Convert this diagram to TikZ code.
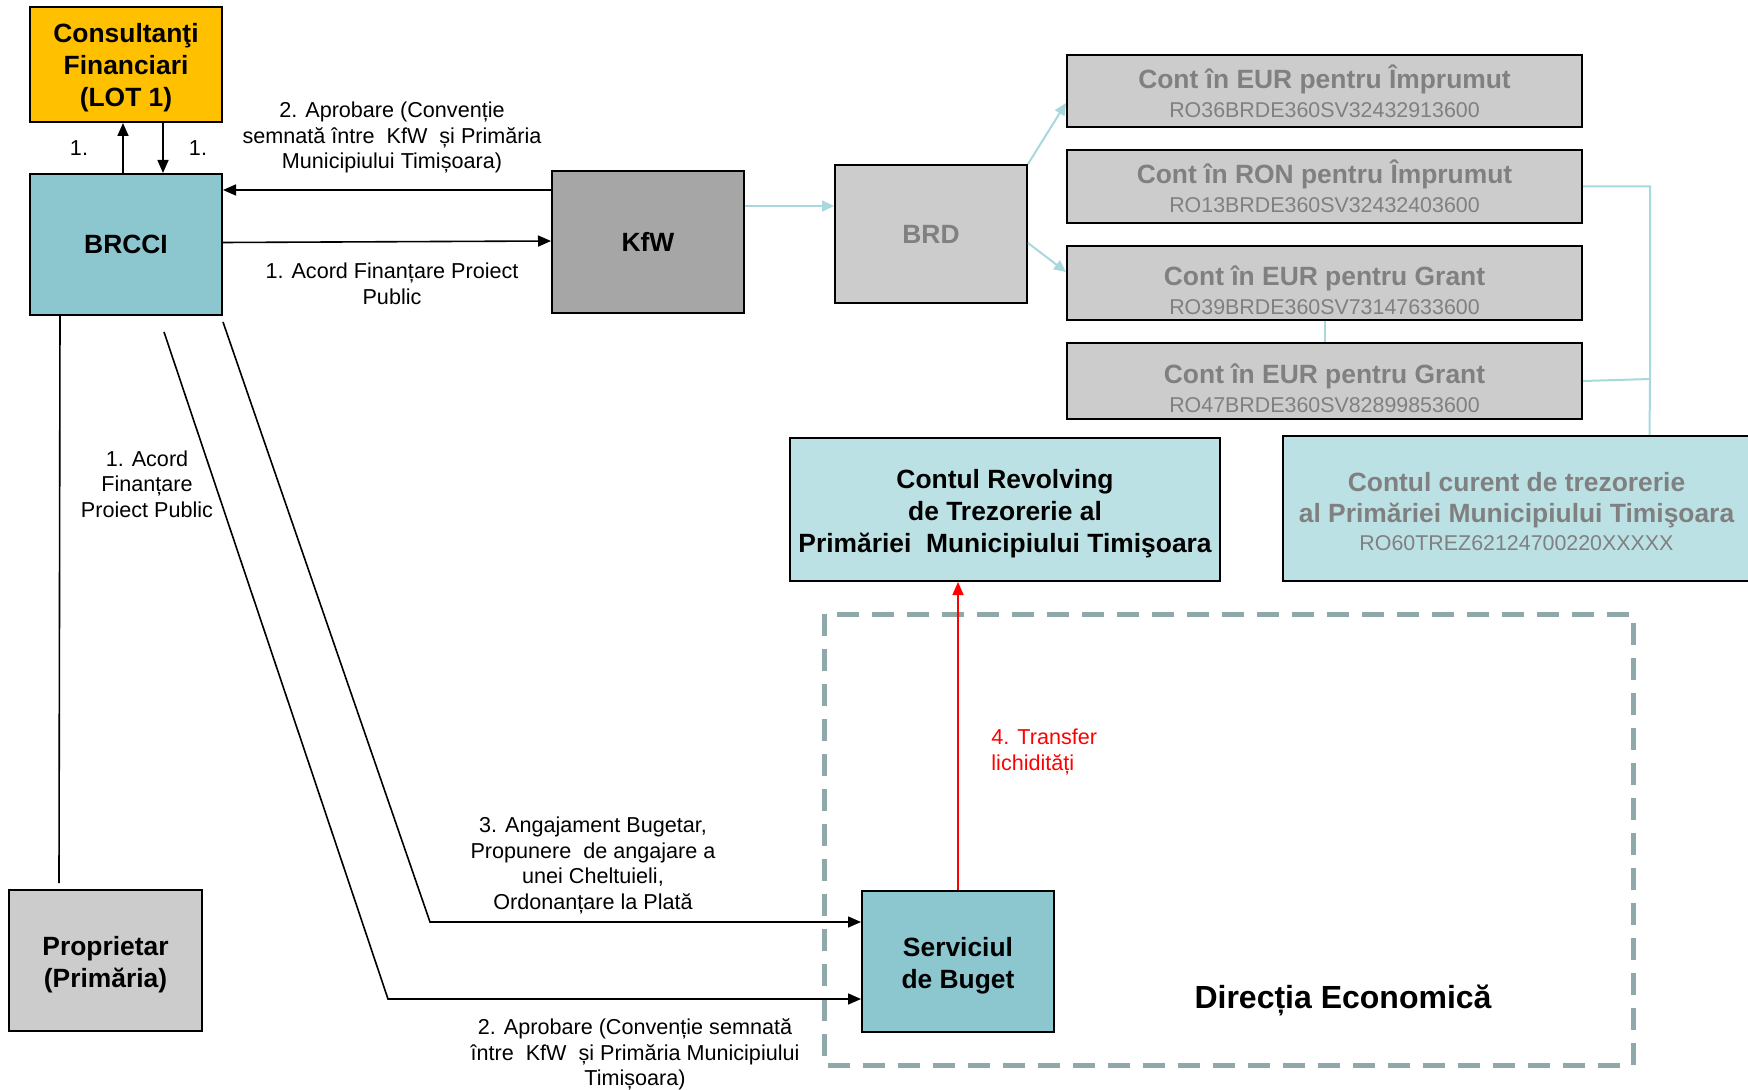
\documentclass[tikz,border=0pt]{standalone}
\usepackage{fontspec}
\setmainfont{Liberation Sans}
\usetikzlibrary{arrows.meta}
\definecolor{ouro}{HTML}{FFC000}
\definecolor{azulbox}{HTML}{8CC6CE}
\definecolor{azulclaro}{HTML}{BCE1E4}
\definecolor{cinzakfw}{HTML}{A6A6A6}
\definecolor{cinzabox}{HTML}{CCCCCC}
\definecolor{cinzatexto}{HTML}{808080}
\definecolor{linhaazul}{HTML}{A9D8DC}
\definecolor{tracejado}{HTML}{8FA9AB}
\newcommand{\numero}[1]{{\mdseries\fontsize{10.7}{14.5}\selectfont #1}}
\newcommand{\desce}[1]{\rule{0pt}{#1}} %Texto mais baixo
\begin{document}
\begin{tikzpicture}[x=0.5pt,y=-0.5pt, %Escala em pixels
	caixa/.style={draw=black,line width=1pt,align=center,inner sep=0pt,font=\fontsize{13.2}{15.9}\selectfont\bfseries},
	conta/.style={caixa,fill=cinzabox,text=cinzatexto,minimum width=257.5pt,font=\fontsize{13.2}{14.5}\selectfont\bfseries},
	rotulo/.style={align=center,inner sep=0pt,font=\fontsize{10.8}{12.8}\selectfont},
	seta/.style={-{Triangle[length=6.5pt,width=5.5pt]},line width=0.8pt},
	setaazul/.style={-{Triangle[length=6pt,width=5.5pt]},draw=linhaazul,line width=1pt}]
	\useasboundingbox (0,0) rectangle (1748,1090);
	%Moldura tracejada
	\draw[tracejado,line width=2.5pt,dash pattern=on 11pt off 6.5pt] (824,614) rectangle (1633,1065);
	\node[font=\fontsize{16}{19}\selectfont\bfseries] (dir) at (1343,1000.5) {Direcția Economică};
	%Caixas
	\node[caixa,fill=ouro,minimum width=96pt,minimum height=57.5pt] (cons) at (126,64.5) {\desce{12.9pt}Consultanţi\\Financiari\\(LOT 1)};
	\node[caixa,fill=azulbox,minimum width=96pt,minimum height=70.5pt] (brcci) at (126,244.5) {BRCCI};
	\node[caixa,fill=cinzakfw,minimum width=96pt,minimum height=71pt] (kfw) at (648,242) {KfW};
	\node[caixa,fill=cinzabox,text=cinzatexto,minimum width=96pt,minimum height=69pt] (brd) at (931,234) {BRD};
	\node[conta,minimum height=36pt] (c1) at (1324.5,91) {Cont în EUR pentru Împrumut\\\numero{RO36BRDE360SV32432913600}};
	\node[conta,minimum height=36.5pt] (c2) at (1324.5,186.5) {Cont în RON pentru Împrumut\\\numero{RO13BRDE360SV32432403600}};
	\node[conta,minimum height=37pt] (c3) at (1324.5,283) {\desce{17.4pt}Cont în EUR pentru Grant\\\numero{RO39BRDE360SV73147633600}};
	\node[conta,minimum height=38pt] (c4) at (1324.5,381) {\desce{17.4pt}Cont în EUR pentru Grant\\\numero{RO47BRDE360SV82899853600}};
	\node[caixa,fill=azulclaro,minimum width=215pt,minimum height=71.5pt] (rev) at (1005,509.5) {\desce{14pt}Contul Revolving\\de Trezorerie al\\Primăriei\ \ Municipiului Timişoara};
	\node[caixa,fill=azulclaro,text=cinzatexto,minimum width=233.5pt,minimum height=72.5pt] (cur) at (1516.5,508.5) {\desce{12.6pt}Contul curent de trezorerie\\al Primăriei Municipiului Timişoara\\[-2pt]\numero{RO60TREZ62124700220XXXXX}};
	\node[caixa,fill=cinzabox,minimum width=96.5pt,minimum height=70.5pt] (prop) at (105.5,960.5) {\desce{14pt}Proprietar\\(Primăria)};
	\node[caixa,fill=azulbox,minimum width=96pt,minimum height=70.5pt] (serv) at (958,961.5) {\desce{14pt}Serviciul\\de Buget};
	%Setas pretas
	\draw[seta] ([xshift=-1.5pt]brcci.north) -- ([xshift=-1.5pt]cons.south);
	\draw[seta] ([xshift=18.5pt]cons.south) -- ([xshift=18.5pt]brcci.north);
	\node[rotulo] (n1) at (79,148) {1.};
	\node[rotulo] (n2) at (198,148) {1.};
	\draw[seta] ([yshift=26pt]kfw.west) -- ([yshift=27.25pt]brcci.east);
	\node[rotulo] (aprob) at (392,137.5) {2. Aprobare (Convenție\\semnată între\ \ KfW\ \ și Primăria\\Municipiului Timișoara)};
	\draw[seta] ([yshift=1pt]brcci.east) -- ([yshift=0.5pt]kfw.west);
	\node[rotulo] (acord) at (392,284) {1. Acord Finanțare Proiect\\Public};
	\draw[line width=0.8pt] ([xshift=-33pt]brcci.south) -- ([xshift=25.5pt,yshift=3pt]prop.north west);
	\node[rotulo] (acord2) at (147,484) {1. Acord\\Finanțare\\Proiect Public};
	\draw[seta] ([yshift=-3pt]brcci.south east) -- (430,922) -- ([yshift=19.75pt]serv.west);
	\draw[seta] ([xshift=19pt,yshift=-8pt]brcci.south) -- (388,999) -- ([yshift=-18.75pt]serv.west);
	\node[rotulo] (angaj) at (593,865.5) {3. Angajament Bugetar,\\Propunere\ \ de angajare a\\unei Cheltuieli,\\Ordonanțare la Plată};
	\node[rotulo] (aprob2) at (635,1054.5) {2. Aprobare (Convenție semnată\\între\ \ KfW\ \ și Primăria Municipiului\\Timișoara)};
	%Seta vermelha
	\draw[seta,red] (serv.north) -- ([xshift=-23.5pt]rev.south);
	\node[rotulo,align=left,anchor=west,text=red] (transf) at (991,752) {4. Transfer\\lichidități};
	%Ligacoes azuis
	\draw[setaazul] ([yshift=18pt]kfw.east) -- ([yshift=14pt]brd.west);
	\draw[setaazul] (brd.north east) -- ([yshift=-6pt]c1.west);
	\draw[setaazul] ([yshift=-4.5pt]brd.east) -- ([yshift=5.5pt]c3.west);
	\draw[linhaazul,line width=1pt] (c3.south) -- (c4.north);
	\coordinate (junta) at (1650,379);
	\draw[linhaazul,line width=1pt] (c2.east) -| (junta) -- ([xshift=66.5pt]cur.north);
	\draw[linhaazul,line width=1pt] (c4.east) -- (junta);
\end{tikzpicture}
\end{document}
